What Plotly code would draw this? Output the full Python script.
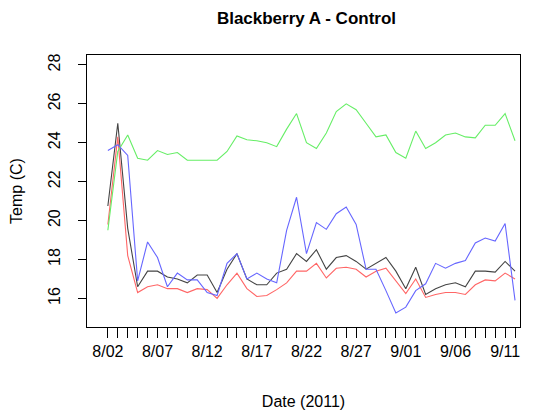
import plotly.graph_objects as go
import datetime as dt

start = dt.date(2011, 8, 2)
days = list(range(42))
date_labels = [f"{(start+dt.timedelta(d)).month}/{(start+dt.timedelta(d)).day:02d}" for d in days]

green = [19.5,23.55,24.4,23.2,23.1,23.6,23.4,23.5,23.1,23.1,23.1,23.1,23.55,24.35,24.15,24.1,24.0,23.8,24.7,25.5,
         24.0,23.7,24.5,25.6,26.0,25.7,25.0,24.3,24.4,23.5,23.2,24.6,23.7,24.0,24.4,24.5,24.3,24.25,24.9,24.9,25.5,24.1]
blue = [23.6,23.9,23.35,16.9,18.9,18.1,16.6,17.3,16.95,16.95,16.3,16.15,17.8,18.3,17.0,17.3,17.0,16.8,19.5,21.2,
        18.3,19.9,19.55,20.35,20.7,19.8,17.5,17.5,16.4,15.25,15.55,16.4,16.75,17.8,17.55,17.8,17.95,18.85,19.1,18.95,19.85,15.9]
black = [20.75,25.0,19.6,16.6,17.4,17.4,17.1,17.0,16.8,17.2,17.2,16.3,17.5,18.3,17.0,16.7,16.7,17.3,17.5,18.3,
         17.9,18.5,17.5,18.1,18.2,17.9,17.5,17.8,18.1,17.4,16.5,17.6,16.2,16.5,16.7,16.8,16.6,17.4,17.4,17.35,17.9,17.4]
red = [19.8,24.3,18.2,16.3,16.6,16.7,16.5,16.5,16.3,16.5,16.45,16.0,16.7,17.3,16.5,16.1,16.15,16.45,16.8,17.4,
       17.4,17.8,17.05,17.55,17.6,17.5,17.1,17.4,17.55,16.9,16.25,17.0,16.05,16.2,16.3,16.3,16.2,16.7,16.95,16.9,17.3,17.0]

fig = go.Figure()
for y, c in [(black, "#444444"), (red, "#ff6666"), (green, "#66ee66"), (blue, "#6666ff")]:
    fig.add_trace(go.Scatter(x=days, y=y, mode="lines", line=dict(color=c, width=1.1), showlegend=False))

font = dict(family="Liberation Sans, Arial, sans-serif", size=16, color="black")
fig.update_layout(
    width=533, height=412, margin=dict(l=87, r=13, t=55, b=85),
    plot_bgcolor="white", paper_bgcolor="white", font=font,
    title=dict(text="<b>Blackberry A - Control</b>", x=0.575, xanchor="center", y=0.955, yanchor="middle",
               font=dict(size=17)),
    xaxis=dict(range=[-2.1, 41.5], tickvals=days, automargin=False,
               ticktext=[lab if d % 5 == 0 else "" for d, lab in zip(days, date_labels)],
               ticks="outside", ticklen=10, tickcolor="black", showgrid=False, zeroline=False,
               showline=True, linecolor="black", linewidth=1, mirror=True,
               title=dict(text="Date (2011)", standoff=36, font=dict(size=16))),
    yaxis=dict(range=[14.53, 28.51], tickvals=[16, 18, 20, 22, 24, 26, 28], tickangle=-90, automargin=False,
               ticks="outside", ticklen=8, tickcolor="black", showgrid=False, zeroline=False,
               showline=True, linecolor="black", linewidth=1, mirror=True, ticklabelstandoff=12,
               title=dict(text="Temp (C)", standoff=18, font=dict(size=16))),
)
fig.write_html("out.html", config={"displayModeBar": False})
with open("out.html", encoding="utf-8") as f:
    html = f.read()
html = html.replace("<body>", '<body style="margin:0;overflow:hidden">', 1)
with open("out.html", "w", encoding="utf-8") as f:
    f.write(html)
